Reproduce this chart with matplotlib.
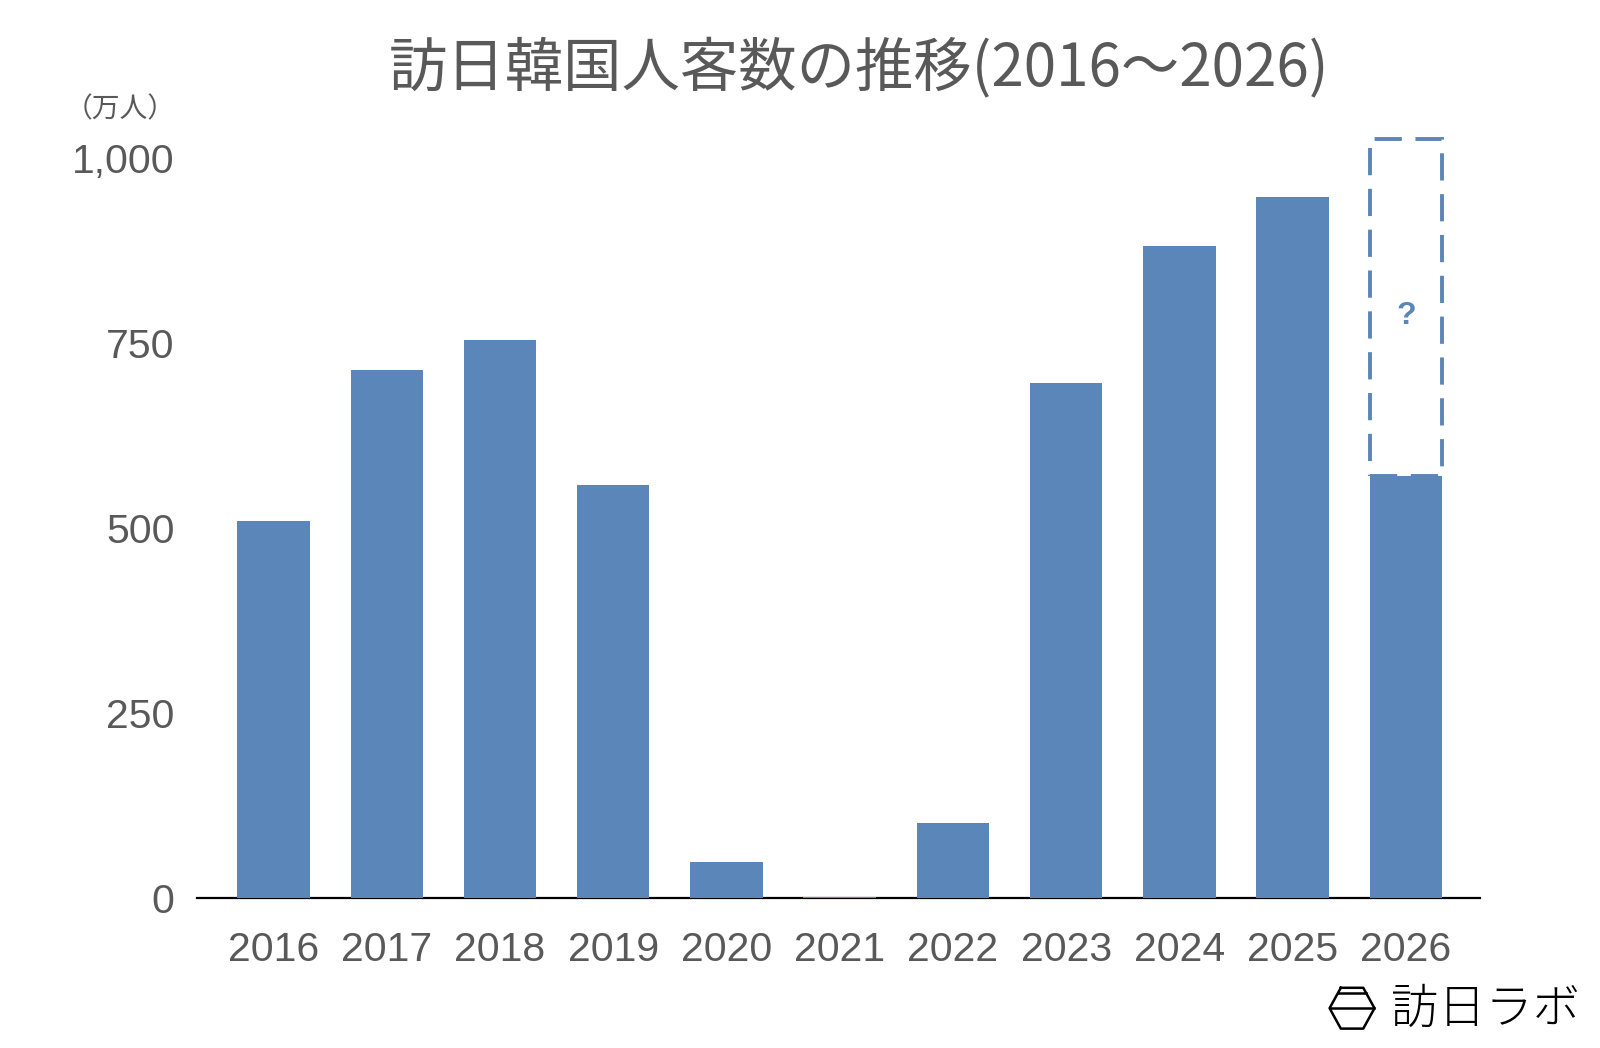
import matplotlib
matplotlib.use("Agg")
import matplotlib.pyplot as plt
from matplotlib.patches import Rectangle
from matplotlib.lines import Line2D

years = ["2016", "2017", "2018", "2019", "2020", "2021", "2022", "2023", "2024", "2025", "2026"]
visitors = [509.0, 714.0, 753.9, 558.5, 48.8, 1.9, 101.3, 695.8, 881.7, 947.0, 571.0]
forecast_top = 1026.0
yticks = [0, 250, 500, 750, 1000]
ytick_labels = ["0", "250", "500", "750", "1,000"]
title = "訪日韓国人客数の推移(2016～2026)"
unit_label = "（万人）"
logo_text = "訪日ラボ"

BLUE = "#5B86BA"
GREY = "#595959"
CJK = ["Noto Sans CJK JP", "DejaVu Sans"]
LAT = ["Liberation Sans", "DejaVu Sans"]

# layout measured on a 1568x1027 view of the reference
W, H = 1568.0, 1027.0
def P(px, py):
    return (px / W, 1 - py / H)

fig = plt.figure(figsize=(16, 10.48), dpi=100)
ax_left, ax_right, ax_bottom = 193, 1450, 880
ax_top = ax_bottom - 1030 * 0.725
ax = fig.add_axes([ax_left / W, 1 - ax_bottom / H, (ax_right - ax_left) / W, (ax_bottom - ax_top) / H])

x = list(range(len(years)))
ax.bar(x, visitors, width=0.64, color=BLUE, zorder=3)

i26 = len(years) - 1
rect = Rectangle((i26 - 0.32, visitors[i26]), 0.64, forecast_top - visitors[i26],
                 fill=False, edgecolor=BLUE, linewidth=2.8, linestyle=(0, (7, 3.5)),
                 zorder=4, clip_on=False)
ax.add_patch(rect)
ax.text(i26, 786, "?", ha="center", va="center", color=BLUE, fontsize=23,
        fontweight="bold", family=LAT, zorder=5)

ax.set_xlim(-0.676, 10.65)
ax.set_ylim(0, 1030)
ax.set_xticks(x)
ax.set_xticklabels(years)
ax.set_yticks(yticks)
ax.set_yticklabels(ytick_labels)
for lab in ax.get_xticklabels() + ax.get_yticklabels():
    lab.set_family(LAT)
    lab.set_fontsize(29.5)
    lab.set_color(GREY)
ax.tick_params(axis="both", length=0)
ax.tick_params(axis="x", pad=24)
ax.tick_params(axis="y", pad=16)
for s in ["top", "right", "left"]:
    ax.spines[s].set_visible(False)
ax.spines["bottom"].set_linewidth(1.6)
ax.spines["bottom"].set_color("black")
ax.spines["bottom"].set_zorder(2)

fig.text(*P(842, 68), title, ha="center", va="center", fontsize=42,
         color=GREY, family=CJK)
fig.text(*P(118, 107), unit_label, ha="center", va="center", fontsize=20,
         color=GREY, family=CJK)

# logo
fig.text(*P(1456, 989), logo_text, ha="center", va="center", fontsize=34,
         color="black", family=CJK, fontweight="light")
hx = [P(1314, 968), P(1336, 968), P(1347, 988), P(1336, 1008), P(1314, 1008), P(1303, 988), P(1314, 968)]
fig.add_artist(Line2D([p[0] for p in hx], [p[1] for p in hx], color="black", lw=1.8))
for (a, b) in [((1311, 973), (1339, 973)), ((1303, 988), (1347, 988))]:
    pa, pb = P(*a), P(*b)
    fig.add_artist(Line2D([pa[0], pb[0]], [pa[1], pb[1]], color="black", lw=1.8))

fig.savefig("out.png", dpi=100, facecolor="white")
